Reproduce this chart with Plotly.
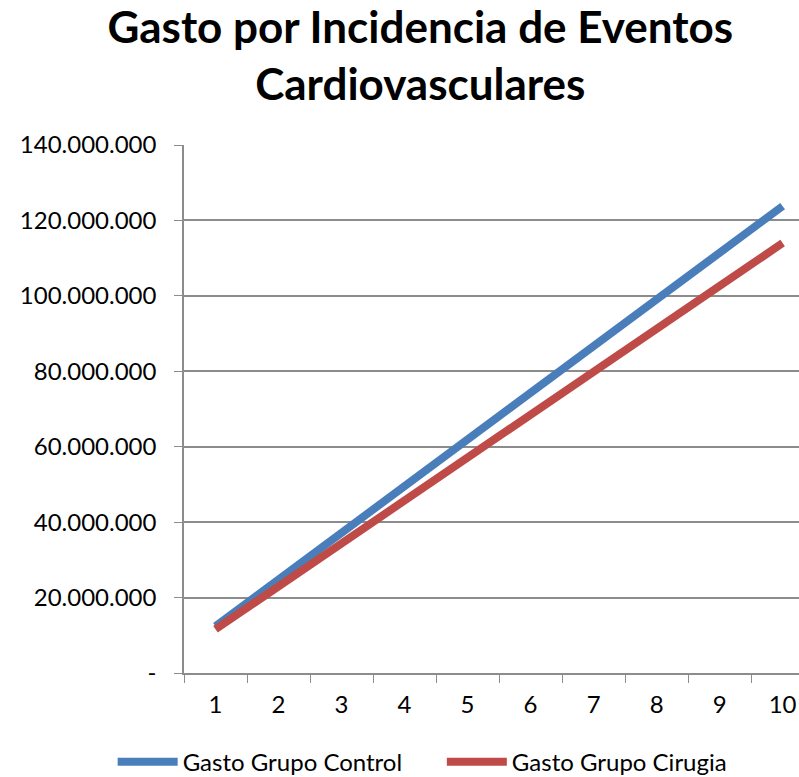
import plotly.graph_objects as go

periodos = [str(i) for i in range(1, 11)]
gasto_control = [12.4e6, 24.8e6, 37.1e6, 49.5e6, 61.9e6, 74.3e6, 86.7e6, 99.0e6, 111.4e6, 123.8e6]
gasto_cirugia = [11.6e6, 23.0e6, 34.3e6, 45.7e6, 57.1e6, 68.5e6, 79.9e6, 91.2e6, 102.6e6, 114.0e6]

y_ticks = [0, 20e6, 40e6, 60e6, 80e6, 100e6, 120e6, 140e6]
y_labels = ["-", "20.000.000", "40.000.000", "60.000.000", "80.000.000",
            "100.000.000", "120.000.000", "140.000.000"]

font_family = "Lato, Open Sans, sans-serif"
grid_color = "#8c8c8c"

fig = go.Figure()
fig.add_trace(go.Scatter(
    x=periodos, y=gasto_control, mode="lines", name="Gasto Grupo Control",
    line=dict(color="#4a7ebb", width=8), legend="legend",
))
fig.add_trace(go.Scatter(
    x=periodos, y=gasto_cirugia, mode="lines", name="Gasto Grupo Cirugia",
    line=dict(color="#be4b48", width=8), legend="legend2",
))

# one legend per series so the entries sit where the original places them
legend_style = dict(
    orientation="h", xref="container", yref="container",
    xanchor="left", y=0.019, yanchor="middle",
    font=dict(size=24), itemwidth=60,
)

fig.update_layout(
    width=799, height=777,
    plot_bgcolor="white", paper_bgcolor="white",
    font=dict(family=font_family, color="black", size=24),
    title=dict(
        text="<b>Gasto por Incidencia de Eventos<br>Cardiovasculares</b>",
        x=0.526, xanchor="center", y=0.945, yanchor="top",
        font=dict(size=44, family=font_family),
    ),
    margin=dict(l=184, r=0, t=145, b=104),
    showlegend=True,
    legend=dict(legend_style, x=0.141),
    legend2=dict(legend_style, x=0.553),
)
fig.update_xaxes(
    type="category", range=[-0.5, 9.26], tickson="boundaries",
    ticks="outside", ticklen=8, tickcolor=grid_color,
    showline=True, linecolor=grid_color, linewidth=1.5,
    showgrid=False, tickfont=dict(size=24), automargin=False,
    ticklabelstandoff=9,
)
fig.update_yaxes(
    range=[0, 140e6], tickvals=y_ticks, ticktext=y_labels,
    ticks="outside", ticklen=8, tickcolor=grid_color,
    showline=True, linecolor=grid_color, linewidth=1.5,
    showgrid=True, gridcolor=grid_color, gridwidth=1.5,
    tickfont=dict(size=24), zeroline=False, automargin=False,
    ticklabelstandoff=13,
)

# drop the default 8px body margin so the figure fills the window
fig.write_html(
    "out.html",
    config={"displayModeBar": False},
    post_script="document.body.style.margin='0';document.body.style.overflow='hidden';",
)
